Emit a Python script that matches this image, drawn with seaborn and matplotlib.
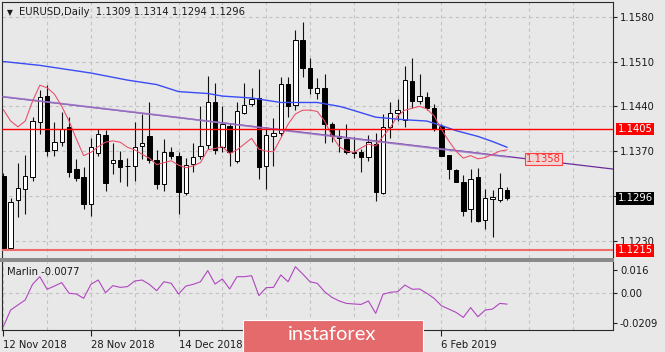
import numpy as np
import pandas as pd
import matplotlib
matplotlib.use("Agg")
import matplotlib.pyplot as plt
import seaborn as sns
from matplotlib.patches import Rectangle

# ---- data (EURUSD daily, bar index 0 = 12 Nov 2018) ----
# the 3 Jan / 21 Jan labels sit under the watermark in the reference, so they stay blank
date_labels = ["12 Nov 2018", "28 Nov 2018", "14 Dec 2018", "", "", "6 Feb 2019"]
date_bars = [0, 12, 24, 36, 48, 60]

opens = [1.1331, 1.1218, 1.1294, 1.1311, 1.1329, 1.1416, 1.1456, 1.1372, 1.1385, 1.1407,
         1.1342, 1.1329, 1.1287, 1.1367, 1.1395, 1.1351, 1.1356, 1.1346, 1.1346, 1.1378,
         1.1393, 1.1356, 1.1319, 1.1368, 1.1363, 1.1304, 1.1350, 1.1363, 1.1379, 1.1446,
         1.1377, 1.1409, 1.1355, 1.1430, 1.1443, 1.1453, 1.1346, 1.1394, 1.1398, 1.1475,
         1.1442, 1.1543, 1.1500, 1.1461, 1.1468, 1.1413, 1.1394, 1.1389, 1.1368, 1.1369,
         1.1361, 1.1381, 1.1305, 1.1408, 1.1429, 1.1419, 1.1479, 1.1448, 1.1455, 1.1438,
         1.1410, 1.1364, 1.1341, 1.1321, 1.1279, 1.1329, 1.1263, 1.1295, 1.1294, 1.1309]
highs = [1.1336, 1.1296, 1.1351, 1.1364, 1.1423, 1.1466, 1.1474, 1.1415, 1.1431, 1.1423,
         1.1357, 1.1345, 1.1390, 1.1404, 1.1403, 1.1382, 1.1370, 1.1360, 1.1415, 1.1428,
         1.1446, 1.1372, 1.1389, 1.1376, 1.1368, 1.1360, 1.1383, 1.1440, 1.1488, 1.1476,
         1.1441, 1.1414, 1.1447, 1.1476, 1.1468, 1.1498, 1.1407, 1.1421, 1.1486, 1.1486,
         1.1560, 1.1572, 1.1516, 1.1484, 1.1491, 1.1415, 1.1404, 1.1412, 1.1392, 1.1373,
         1.1395, 1.1399, 1.1428, 1.1446, 1.1452, 1.1503, 1.1516, 1.1491, 1.1462, 1.1443,
         1.1412, 1.1364, 1.1342, 1.1333, 1.1342, 1.1343, 1.1311, 1.1310, 1.1336, 1.1314]
lows = [1.1216, 1.1216, 1.1267, 1.1272, 1.1324, 1.1396, 1.1362, 1.1363, 1.1378, 1.1329,
        1.1324, 1.1279, 1.1269, 1.1363, 1.1308, 1.1334, 1.1322, 1.1315, 1.1324, 1.1357,
        1.1352, 1.1311, 1.1308, 1.1357, 1.1272, 1.1301, 1.1337, 1.1357, 1.1374, 1.1366,
        1.1368, 1.1346, 1.1352, 1.1428, 1.1440, 1.1326, 1.1311, 1.1347, 1.1394, 1.1423,
        1.1435, 1.1486, 1.1459, 1.1451, 1.1383, 1.1385, 1.1368, 1.1365, 1.1360, 1.1338,
        1.1355, 1.1292, 1.1303, 1.1391, 1.1417, 1.1408, 1.1438, 1.1443, 1.1435, 1.1401,
        1.1362, 1.1327, 1.1321, 1.1268, 1.1260, 1.1260, 1.1249, 1.1236, 1.1291, 1.1294]
closes = [1.1218, 1.1291, 1.1312, 1.1331, 1.1417, 1.1454, 1.1370, 1.1384, 1.1404, 1.1337,
          1.1328, 1.1287, 1.1376, 1.1396, 1.1320, 1.1356, 1.1345, 1.1347, 1.1377, 1.1382,
          1.1356, 1.1319, 1.1369, 1.1362, 1.1306, 1.1348, 1.1361, 1.1378, 1.1447, 1.1371,
          1.1413, 1.1369, 1.1432, 1.1442, 1.1452, 1.1345, 1.1395, 1.1398, 1.1475, 1.1440,
          1.1543, 1.1500, 1.1468, 1.1469, 1.1413, 1.1394, 1.1390, 1.1369, 1.1367, 1.1361,
          1.1385, 1.1306, 1.1408, 1.1429, 1.1434, 1.1481, 1.1448, 1.1456, 1.1438, 1.1405,
          1.1363, 1.1342, 1.1322, 1.1277, 1.1327, 1.1261, 1.1296, 1.1298, 1.1312, 1.1296]

# red fast average
fast_ma = [1.1435, 1.1417, 1.1408, 1.1417, 1.1448, 1.1473, 1.1469, 1.1459, 1.1440, 1.1417,
           1.1389, 1.1363, 1.1368, 1.1377, 1.1384, 1.1386, 1.1384, 1.1376, 1.1372, 1.1365,
           1.1359, 1.1349, 1.1352, 1.1355, 1.1348, 1.1344, 1.1347, 1.1352, 1.1372, 1.1374,
           1.1377, 1.1366, 1.1372, 1.1381, 1.1390, 1.1373, 1.1370, 1.1369, 1.1390, 1.1412,
           1.1428, 1.1434, 1.1434, 1.1432, 1.1417, 1.1394, 1.1377, 1.1370, 1.1368, 1.1375,
           1.1381, 1.1378, 1.1393, 1.1407, 1.1425, 1.1434, 1.1437, 1.1440, 1.1436, 1.1425,
           1.1404, 1.1386, 1.1370, 1.1359, 1.1363, 1.1358, 1.1360, 1.1365, 1.1370, 1.1372]

# blue slow average (read at these bars)
slow_ma_bars = [0, 5, 12, 17, 21, 24, 28, 30, 34, 38, 43, 46, 47, 51, 55, 58, 60, 62, 65, 67, 69]
slow_ma = [1.1510, 1.1504, 1.1492, 1.1481, 1.1474, 1.1463, 1.1460, 1.1456, 1.1453, 1.1446, 1.1446,
           1.1440, 1.1437, 1.1423, 1.1419, 1.1417, 1.1410, 1.1402, 1.1393, 1.1385, 1.1376]

# lavender average riding on the trend line
purple_ma_bars = [0, 20, 40, 60, 69]
purple_ma = [1.1455, 1.1428, 1.1400, 1.1373, 1.1361]

# trend line, left edge to right edge
trend_bars = [-0.2, 83.5]
trend_prices = [1.1455, 1.1342]
trend_label = 1.1358

level_high = 1.1405
level_low = 1.1215

price_ticks = [1.1580, 1.1510, 1.1440, 1.1370, 1.1300, 1.1230]
price_ticklabels = ["1.1580", "1.1510", "1.1440", "1.1370", "", "1.1230"]

marlin = [-0.0233, -0.0118, -0.0083, -0.0048, 0.0060, 0.0113, 0.0026, 0.0048, 0.0072, -0.0002,
          -0.0007, -0.0037, 0.0060, 0.0090, 0.0002, 0.0051, 0.0039, 0.0044, 0.0083, 0.0090,
          0.0060, 0.0016, 0.0078, 0.0067, -0.0007, 0.0048, 0.0060, 0.0078, 0.0155, 0.0062,
          0.0097, 0.0028, 0.0113, 0.0113, 0.0120, -0.0018, 0.0037, 0.0039, 0.0125, 0.0078,
          0.0182, 0.0132, 0.0078, 0.0067, 0.0009, -0.0030, -0.0055, -0.0072, -0.0076, -0.0079,
          -0.0055, -0.0141, -0.0009, 0.0005, 0.0009, 0.0055, 0.0026, 0.0028, -0.0002, -0.0037,
          -0.0088, -0.0111, -0.0134, -0.0169, -0.0101, -0.0164, -0.0118, -0.0111, -0.0072, -0.0077]
marlin_ticks = [0.016, 0.0, -0.0209]
marlin_ticklabels = ["0.016", "0.00", "-0.0209"]

# ---- style ----
bg = "#e8e8e8"
sns.set_theme(style="white", rc={"axes.facecolor": bg, "figure.facecolor": bg})
plt.rcParams["font.family"] = ["DejaVu Sans"]
plt.rcParams["font.size"] = 7.2
txt = "#1a1a1a"

W, H = 665, 352
fig = plt.figure(figsize=(W / 100, H / 100), dpi=100)
ax = fig.add_axes([2 / W, (H - 258) / H, 611 / W, 256 / H])
ax2 = fig.add_axes([2 / W, (H - 330) / H, 611 / W, 68 / H])

df = pd.DataFrame({"bar": np.arange(len(opens)), "open": opens, "high": highs,
                   "low": lows, "close": closes})
up = df["close"] >= df["open"]

# candles
ax.vlines(df["bar"], df["low"], df["high"], color="#111111", lw=0.8, zorder=3)
body_bottom = np.minimum(df["open"], df["close"])
body_h = np.maximum((df["close"] - df["open"]).abs(), 0.00009)
ax.bar(df["bar"], body_h, bottom=body_bottom, width=0.6,
       color=np.where(up, "white", "black"), edgecolor="black", linewidth=0.7, zorder=4)

# indicator lines
sns.lineplot(x=trend_bars, y=trend_prices, ax=ax, color="#6a2c9c", lw=0.9, zorder=5)
sns.lineplot(x=purple_ma_bars, y=purple_ma, ax=ax, color="#a07cc8", lw=1.3, alpha=0.8, zorder=5)
sns.lineplot(x=slow_ma_bars, y=slow_ma, ax=ax, color="#3a4cf4", lw=1.0, zorder=5)
sns.lineplot(x=df["bar"], y=fast_ma, ax=ax, color="#ea4a66", lw=0.75, zorder=6)

ax.axhline(level_high, color="#ff0000", lw=1.0, zorder=6)
ax.axhline(level_low, color="#f06c6c", lw=1.5, zorder=6)

ax.set_xlim(-0.18, 83.5)
ax.set_ylim(1.12030, 1.16030)
ax.set_xticks(np.arange(6, 84, 6))
ax.set_xticklabels([])
ax.set_yticks(price_ticks)
ax.set_yticklabels(price_ticklabels)
ax.yaxis.tick_right()
ax.tick_params(axis="y", which="major", right=True, left=False, length=3, width=0.8,
               direction="out", pad=2, labelsize=7.2, labelcolor=txt, color="#222222")
ax.tick_params(axis="x", length=0)
ax.grid(True, ls=(0, (3, 3)), color="#c2c2c2", lw=0.8)
for s in ["left", "top", "right"]:
    ax.spines[s].set_color("#2a2a2a")
    ax.spines[s].set_linewidth(0.8)
ax.spines["bottom"].set_visible(False)


def price_tag(y, text, fc):
    ax.text(1.0075, y, text, transform=ax.get_yaxis_transform(), ha="left", va="center",
            color="white", fontsize=7.2,
            bbox=dict(boxstyle="square,pad=0.12", fc=fc, ec="none"), clip_on=False, zorder=10)


price_tag(level_high, f"{level_high:.4f}", "#ff0000")
price_tag(closes[-1], f"{closes[-1]:.4f}", "#000000")
price_tag(level_low, f"{level_low:.4f}", "#ff0000")

ax.text(71.6, trend_label, f"{trend_label:.4f}", color="#ff2a2a", fontsize=7.2,
        ha="left", va="center", zorder=8,
        bbox=dict(boxstyle="square,pad=0.12", fc="#eed6d6", ec="#ff4040", lw=0.8))

# ---- Marlin panel ----
sns.lineplot(x=df["bar"], y=marlin, ax=ax2, color="#b046c0", lw=0.8)
ax2.axhline(0, ls=(0, (3, 3)), color="#c2c2c2", lw=0.8, zorder=0)
ax2.set_xlim(-0.18, 83.5)
ax2.set_ylim(-0.02562, 0.02147)
ax2.set_yticks(marlin_ticks)
ax2.set_yticklabels(marlin_ticklabels)
ax2.yaxis.tick_right()
ax2.tick_params(axis="y", right=True, left=False, length=3, width=0.8, direction="out",
                pad=2, labelsize=7.2, labelcolor=txt, color="#222222")
ax2.set_xticks(date_bars)
ax2.set_xticklabels(date_labels)
ax2.set_xticks(np.arange(6, 84, 6), minor=True)
for lab in ax2.get_xticklabels():
    lab.set_ha("left")
ax2.tick_params(axis="x", which="major", length=4, width=0.8, direction="out", pad=3,
                labelsize=7.2, labelcolor=txt, color="#222222", bottom=True)
ax2.tick_params(axis="x", which="minor", length=0)
ax2.grid(True, axis="x", which="both", ls=(0, (3, 3)), color="#c2c2c2", lw=0.8)
ax2.set_xlabel("")
ax2.set_ylabel("")
ax.set_xlabel("")
ax.set_ylabel("")
for s in ["left", "right", "bottom"]:
    ax2.spines[s].set_color("#2a2a2a")
    ax2.spines[s].set_linewidth(0.8)
ax2.spines["top"].set_visible(False)
ax2.text(0.008, 0.86, f"Marlin {marlin[-1]:.4f}", transform=ax2.transAxes,
         ha="left", va="center", fontsize=7.2, color=txt)

# separator between panels
fig.add_artist(Rectangle((0, (H - 261.5) / H), 613.5 / W, 3.5 / H, transform=fig.transFigure,
                         fc="#8a8a8a", ec="none", zorder=9))

# header
fig.text(7 / W, 1 - 12.3 / H, "\u25bc", fontsize=5.5, color=txt, va="center", ha="left")
fig.text(19 / W, 1 - 12.3 / H,
         f"EURUSD,Daily  {opens[-1]:.4f} {highs[-1]:.4f} {lows[-1]:.4f} {closes[-1]:.4f}",
         fontsize=7.2, color=txt, va="center", ha="left")

# watermark
fig.add_artist(Rectangle((243 / W, -6 / H), 180 / W, 38 / H, transform=fig.transFigure,
                         fc="#e46a6c", ec="white", lw=0.8, zorder=20))
fig.text(332 / W, 1 - 335 / H, "instaforex", color="white", fontsize=14.5,
         family=["Lato", "DejaVu Sans"], ha="center", va="center", zorder=21)

fig.savefig("out.png", dpi=100)
